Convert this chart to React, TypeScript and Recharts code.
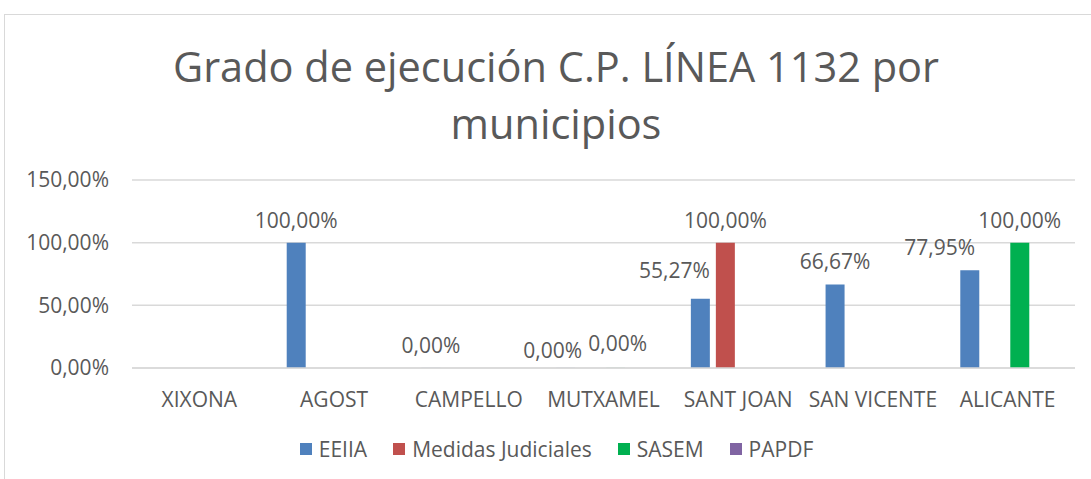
import { BarChart, Bar, XAxis, YAxis, CartesianGrid, Legend, LabelList } from 'recharts'

const categories = ['XIXONA', 'AGOST', 'CAMPELLO', 'MUTXAMEL', 'SANT JOAN', 'SAN VICENTE', 'ALICANTE']
const eeiia = [null, 1, 0, 0, 0.5527, 0.6667, 0.7795]
const medidas = [null, null, null, null, 1, null, null]
const sasem = [null, null, null, 0, null, null, 1]
const papdf = [null, null, null, null, null, null, null]
const yTicks = [0, 0.5, 1, 1.5]

const series = [
  { key: 'EEIIA', values: eeiia, color: '#4F81BD' },
  { key: 'Medidas Judiciales', values: medidas, color: '#C0504D' },
  { key: 'SASEM', values: sasem, color: '#00B050' },
  { key: 'PAPDF', values: papdf, color: '#8064A2' },
]

const data = categories.map((name, i) => {
  const row: Record<string, string | number | null> = { name }
  for (const s of series) row[s.key] = s.values[i]
  return row
})

// Excel nudged a few overlapping labels; mimic that (series|category -> dx, dy)
const labelNudge: Record<string, [number, number]> = {
  'EEIIA|MUTXAMEL': [-13, 5],
  'SASEM|MUTXAMEL': [2, -2],
  'EEIIA|SANT JOAN': [-26, -6],
  'EEIIA|ALICANTE': [-30, 0],
}

const FONT = '"Open Sans", sans-serif'
const TEXT = '#595959'
const FS = 21

const pct = (v: number) => (v * 100).toFixed(2).replace('.', ',') + '%'

function makeLabel(seriesKey: string, values: (number | null)[]) {
  // LabelList skips empty points, so map its index back to the category
  const present = categories.filter((_, i) => values[i] !== null)
  return (props: any) => {
    const { x, y, width, height, value, index } = props
    if (value === null || value === undefined) return null
    const cat = present[index]
    const [dx, dy] = labelNudge[`${seriesKey}|${cat}`] ?? [0, 0]
    const top = Math.min(Number(y), Number(y) + Number(height ?? 0))
    return (
      <text key={`${seriesKey}-${index}`} x={Number(x) + Number(width) / 2 + dx} y={top - 23 + dy} textAnchor="middle"
        dominantBaseline="central" fontFamily={FONT} fontSize={FS} fill={TEXT}>
        {pct(Number(value))}
      </text>
    )
  }
}

// zero values still need their bar (and so their label) to exist
const zeroStub = (value: any) => (value === 0 ? 0.1 : 0)

function LegendRow() {
  return (
    <div style={{ display: 'flex', justifyContent: 'center', fontFamily: FONT, fontSize: FS, color: TEXT }}>
      {series.map(s => (
        <div key={s.key} style={{ display: 'flex', alignItems: 'center', marginRight: 26 }}>
          <span style={{ width: 12, height: 12, background: s.color, display: 'inline-block', marginRight: 7 }} />
          <span>{s.key}</span>
        </div>
      ))}
    </div>
  )
}

export default function App() {
  return (
    <div style={{ position: 'absolute', left: 0, top: 0, width: 1091, height: 479, background: '#fff', overflow: 'hidden' }}>
      <div style={{ position: 'absolute', left: 4, top: 14, width: 1120, height: 480, border: '1px solid #d9d9d9' }} />
      <div style={{ position: 'absolute', left: 0, top: 38, width: 1112, textAlign: 'center', fontFamily: FONT, fontSize: 41.5, lineHeight: '57px', color: TEXT }}>
        Grado de ejecución C.P. LÍNEA 1132 por<br />municipios
      </div>
      <div style={{ position: 'absolute', left: 0, top: 0 }}>
        <BarChart width={1091} height={479} data={data} margin={{ top: 180, right: 16, bottom: 43, left: 0 }}
          barSize={19} barGap={6}>
          <CartesianGrid vertical={false} stroke="#d9d9d9" strokeWidth={1.5} />
          <XAxis dataKey="name" axisLine={{ stroke: '#d9d9d9', strokeWidth: 1.5 }} tickLine={false} tickMargin={18} height={40}
            tick={{ fontFamily: FONT, fontSize: FS, fill: TEXT }} interval={0} />
          <YAxis domain={[0, 1.5]} ticks={yTicks} tickFormatter={pct} axisLine={false} tickLine={false} tickSize={0} tickMargin={23}
            width={132} tick={{ fontFamily: FONT, fontSize: FS, fill: TEXT }} />
          <Legend verticalAlign="bottom" wrapperStyle={{ left: 24, width: 1091, bottom: 16 }} content={() => <LegendRow />} />
          {series.map(s => (
            <Bar key={s.key} dataKey={s.key} fill={s.color} isAnimationActive={false} minPointSize={zeroStub}>
              <LabelList dataKey={s.key} content={makeLabel(s.key, s.values)} />
            </Bar>
          ))}
        </BarChart>
      </div>
    </div>
  )
}
